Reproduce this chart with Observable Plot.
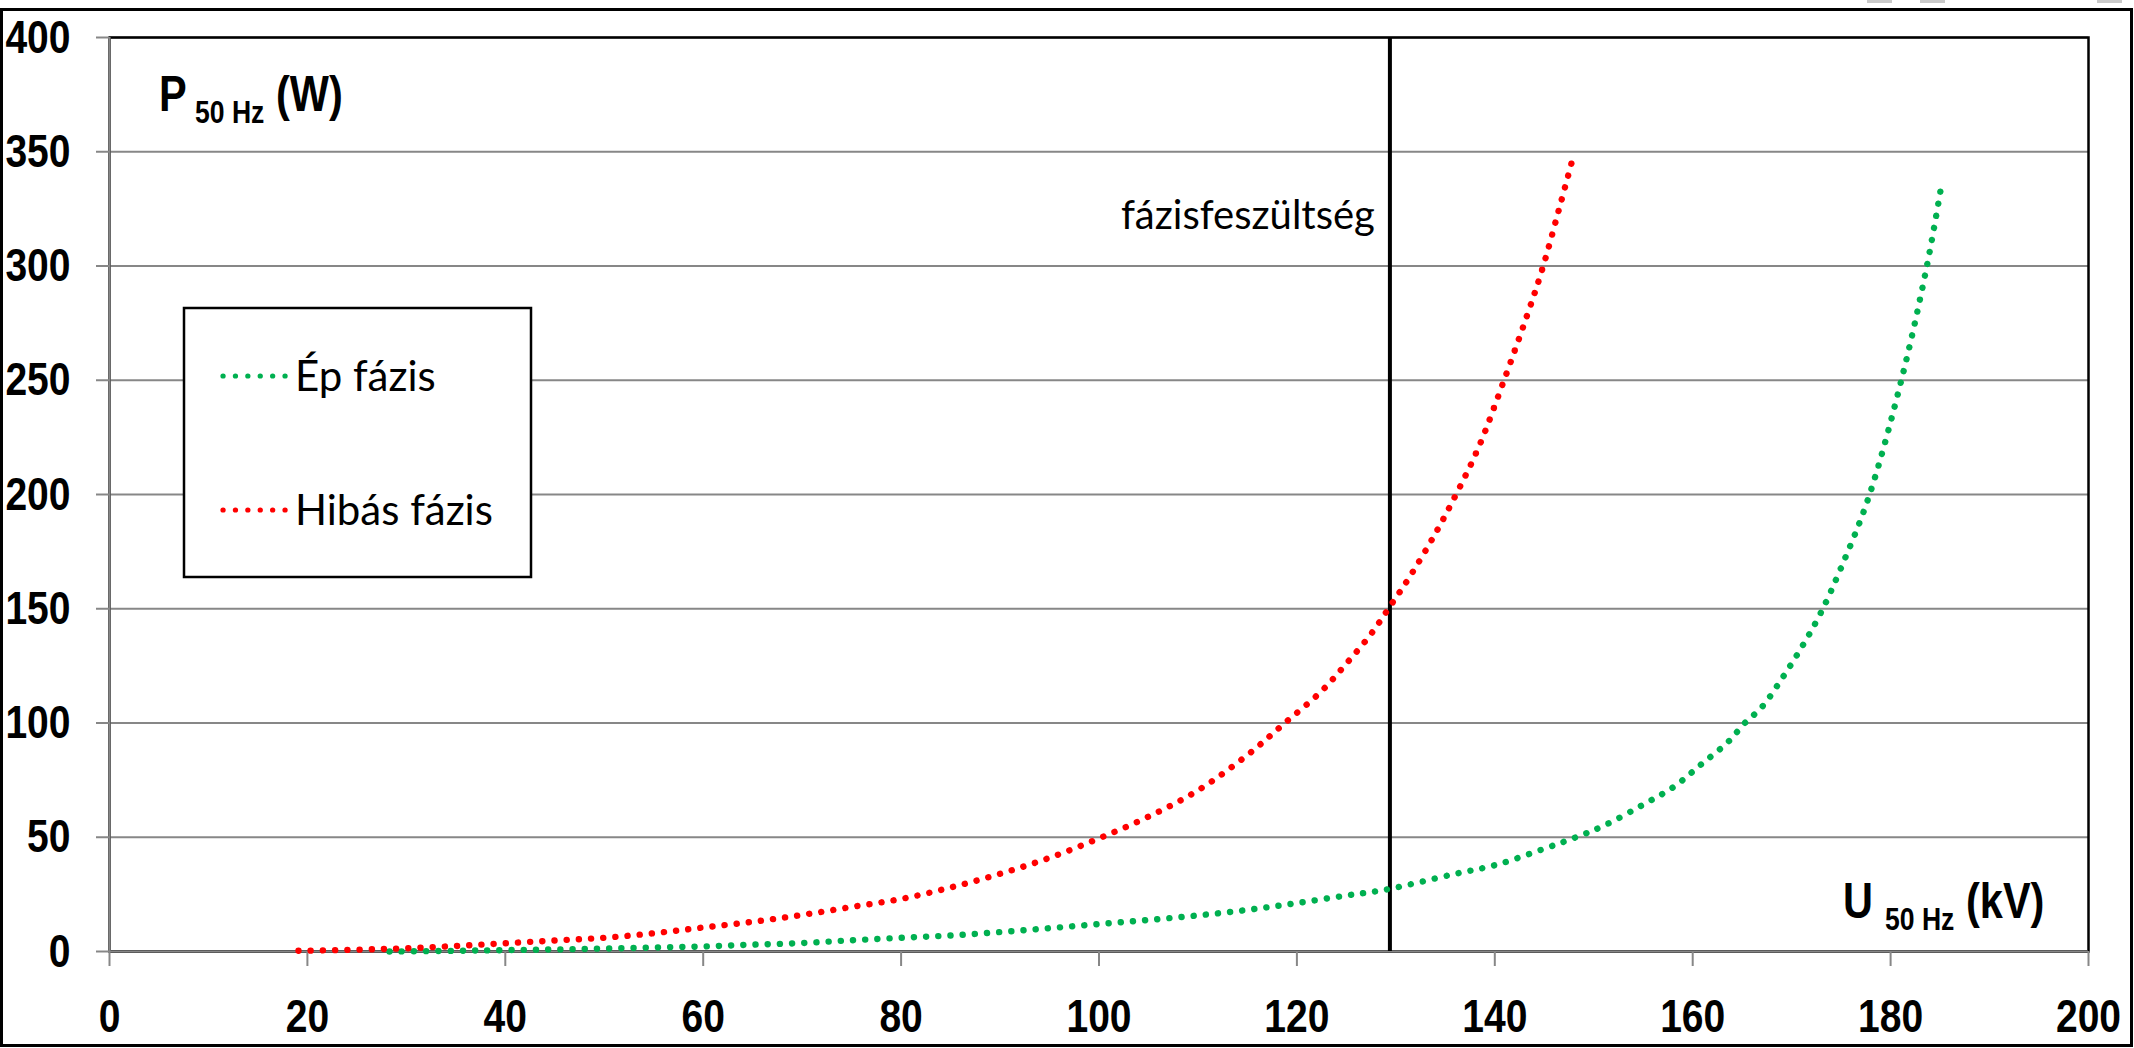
<!DOCTYPE html>
<html>
<head>
<meta charset="utf-8">
<script src="https://cdn.jsdelivr.net/npm/d3@7"></script>
<script src="https://cdn.jsdelivr.net/npm/@observablehq/plot@0.6"></script>
<style>
  html, body { margin: 0; padding: 0; background: #fff; }
  #wrap { position: relative; width: 2134px; height: 1048px; overflow: hidden; background: #fff; }
  #chart svg { display: block; }
  .border { position: absolute; left: 0; top: 8px; width: 2133px; height: 1039px; border: 3px solid #000; box-sizing: border-box; pointer-events: none; }
  .nub { position: absolute; top: 0; height: 3px; background: #c9c9c9; }
</style>
</head>
<body>
<div id="wrap">
  <div id="chart"></div>
  <div class="border"></div>
  <div class="nub" style="left:1867px;width:25px"></div>
  <div class="nub" style="left:1920px;width:25px"></div>
  <div class="nub" style="left:2097px;width:25px"></div>
</div>
<script>
// ---- data ----
const xTicks = [0, 20, 40, 60, 80, 100, 120, 140, 160, 180, 200];
const yTicks = [0, 50, 100, 150, 200, 250, 300, 350, 400];

// "Hibás fázis" (faulty phase)
const hibasU = [19.1, 25, 30, 35, 40, 45, 50, 55, 60, 65, 70, 75, 80, 85, 90, 95, 100, 105, 110, 115, 118.7, 122.5, 125, 127.5, 129.4, 131.4, 134, 136.2, 138.4, 141.1, 143.2, 144.8, 146.5, 148];
const hibasP = [0.3, 0.8, 1.4, 2.4, 3.6, 4.8, 6.0, 8.0, 10.5, 13, 16, 19.5, 23, 28, 34, 41, 49.5, 59, 70.5, 86, 99.7, 114, 126, 139, 151, 164, 183, 201, 221, 252, 277.6, 298.6, 325, 349];

// "Ép fázis" (healthy phase)
const epU = [28.3, 35, 40, 45, 50, 55, 60, 65, 70, 75, 80, 85, 90, 95, 100, 105, 110, 115, 120, 125, 129, 135.7, 140.2, 145, 148.2, 151, 155, 158.1, 160.8, 163.6, 165.2, 167, 169.1, 171.1, 172.9, 175, 177.8, 181.2, 183.7, 185.2];
const epP = [0, 0.3, 0.6, 0.9, 1.3, 1.7, 2.2, 3.0, 3.7, 4.9, 6.0, 7.0, 8.5, 10.2, 12, 13.8, 15.8, 18.2, 21.2, 24.5, 27.1, 33.7, 38, 45, 50, 55, 64.3, 72.1, 81.7, 91.8, 99.7, 107, 120, 133.8, 147.8, 168, 199, 252, 300.7, 337];

const seriesNames = ["Ép fázis", "Hibás fázis"];
const phaseVoltage = 129.4;           // vertical marker (kV)
const phaseLabel = "fázisfeszültség";
const phaseLabelP = 316;              // height of the marker label (W)

// ---- fonts ----
const BOLD_FONT = '"Liberation Sans", Arial, sans-serif';   // squeezed horizontally below
const SQUEEZE = 0.83;
const REG_FONT = 'Lato, "Open Sans", sans-serif';

const GREEN = "#00B050", RED = "#FF0000", GRAY = "#878787";
const hibas = hibasU.map((u, i) => ({u, p: hibasP[i]}));
const ep = epU.map((u, i) => ({u, p: epP[i]}));
const dots = {strokeWidth: 6.4, strokeDasharray: "0.1 12.1", strokeLinecap: "round", curve: "catmull-rom"};

const chart = Plot.plot({
  width: 2134,
  height: 1048,
  marginLeft: 109,
  marginRight: 46,
  marginTop: 37,
  marginBottom: 97,
  style: {background: "transparent", fontFamily: BOLD_FONT, color: "#000"},
  x: {domain: [0, 200]},
  y: {domain: [0, 400]},
  marks: [
    Plot.gridY(yTicks, {stroke: GRAY, strokeOpacity: 1, strokeWidth: 2.2}),
    Plot.frame({stroke: "#000", strokeWidth: 2.5}),
    Plot.ruleX([0], {stroke: GRAY, strokeWidth: 2.2}),
    Plot.ruleY([0], {stroke: GRAY, strokeWidth: 2.2}),
    Plot.axisY(yTicks, {tickSize: 13, tickPadding: 26, fontSize: 47, fontWeight: "bold", stroke: GRAY, strokeWidth: 2, fill: "#000", label: null}),
    Plot.axisX(xTicks, {tickSize: 15, tickPadding: 32, fontSize: 47, fontWeight: "bold", stroke: GRAY, strokeWidth: 2, fill: "#000", label: null}),
    Plot.ruleX([phaseVoltage], {stroke: "#000", strokeWidth: 4}),
    Plot.line(ep, {x: "u", y: "p", stroke: GREEN, ...dots}),
    Plot.line(hibas, {x: "u", y: "p", stroke: RED, ...dots}),
    Plot.text([phaseLabel], {x: phaseVoltage, y: phaseLabelP, text: d => d, textAnchor: "end", lineAnchor: "bottom", dx: -15, fontSize: 40, fontFamily: REG_FONT, fontWeight: "normal", fill: "#000"})
  ]
});
document.getElementById("chart").appendChild(chart);

const svg = d3.select(chart);

// squeeze the bold tick labels horizontally (narrow bold look of the original)
svg.selectAll('g[aria-label$="tick label"] text').each(function () {
  const t = this.getAttribute("transform") || "";
  this.setAttribute("transform", t + ` scale(${SQUEEZE},1)`);
});

// ---- axis titles with subscripts and the legend (layout only) ----
function title(base, main, sub, unit, xs) {
  const g = svg.append("g").attr("font-family", BOLD_FONT).attr("font-weight", "bold")
    .attr("fill", "#000").attr("text-anchor", "start");
  const put = (x, y, size, s) => g.append("text")
    .attr("transform", `translate(${x},${y}) scale(${SQUEEZE},1)`).attr("font-size", size).text(s);
  put(xs[0], base, 50, main);
  put(xs[1], base + 12, 32, sub);
  put(xs[2], base, 50, unit);
}
title(111, "P", "50 Hz", "(W)", [159, 195, 276]);
title(918, "U", "50 Hz", "(kV)", [1843, 1885, 1966]);

const lg = svg.append("g").attr("text-anchor", "start");
lg.append("rect").attr("x", 184).attr("y", 308).attr("width", 347).attr("height", 269)
  .attr("fill", "#fff").attr("stroke", "#000").attr("stroke-width", 2.5);
const rows = [{name: seriesNames[0], color: GREEN, y: 376}, {name: seriesNames[1], color: RED, y: 510}];
for (const r of rows) {
  lg.append("line").attr("x1", 223).attr("x2", 285.2).attr("y1", r.y).attr("y2", r.y)
    .attr("stroke", r.color).attr("stroke-width", 5.2).attr("stroke-linecap", "round").attr("stroke-dasharray", "0.1 12.3");
  lg.append("text").attr("x", 295).attr("y", r.y + 14.5).attr("font-family", REG_FONT)
    .attr("font-size", 42).attr("fill", "#000").text(r.name);
}
</script>
</body>
</html>
